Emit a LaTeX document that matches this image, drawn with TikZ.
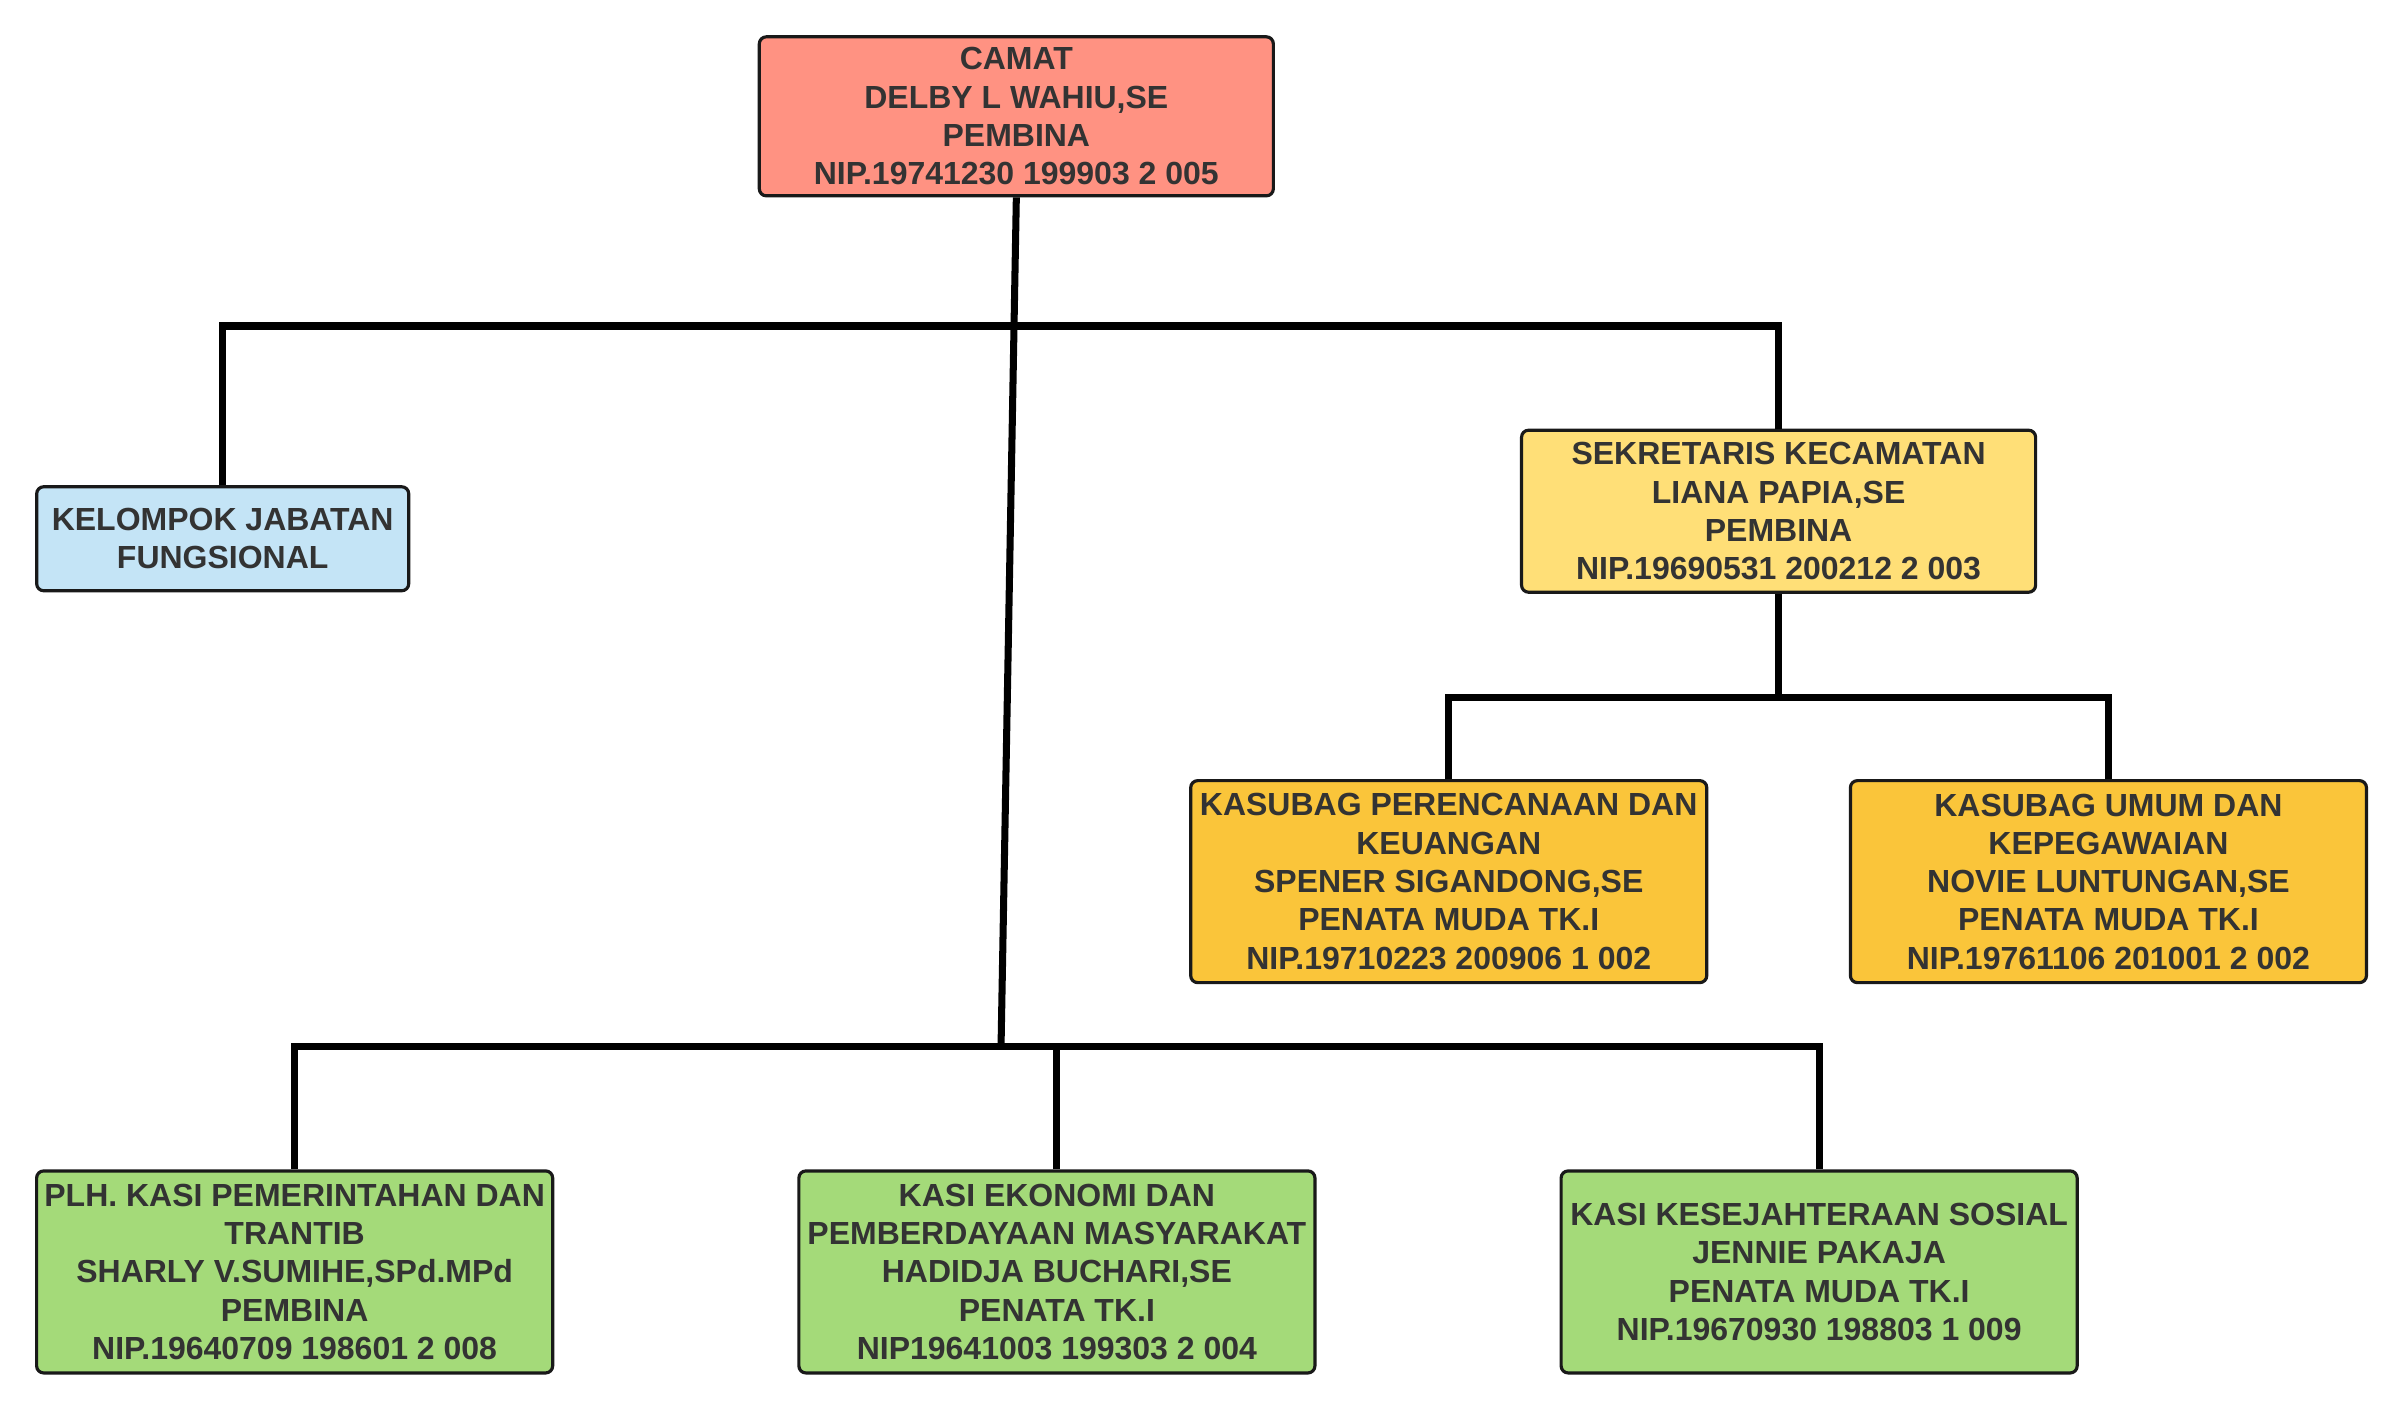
\documentclass[tikz,border=0pt]{standalone}
\usepackage{fontspec}
\setmainfont{Liberation Sans}
\definecolor{camatred}{HTML}{FF9282}
\definecolor{fungblue}{HTML}{C4E4F6}
\definecolor{sekyellow}{HTML}{FFDF77}
\definecolor{subgold}{HTML}{FAC53A}
\definecolor{kasigreen}{HTML}{A4DA79}
\definecolor{inktext}{HTML}{333333}
\begin{document}
\begin{tikzpicture}[x=0.0153061cm,y=-0.0153061cm,
  unit/.style={draw=black!90,line width=0.9pt,rounded corners=2pt,align=center,
    inner sep=0pt,text=inktext,font=\fontsize{9.1}{10.9}\selectfont\bfseries},
  conn/.style={line width=2pt,black}]

  \useasboundingbox (0,0) rectangle (1568,923);

  \node[unit,fill=camatred,minimum width=5.14cm,minimum height=1.59cm] (camat) at (664,76)
    {CAMAT\\DELBY L WAHIU,SE\\PEMBINA\\NIP.19741230 199903 2 005};

  \node[unit,fill=fungblue,minimum width=3.72cm,minimum height=1.04cm] (kjf) at (145.5,352)
    {KELOMPOK JABATAN\\FUNGSIONAL};

  \node[unit,fill=sekyellow,minimum width=5.14cm,minimum height=1.62cm] (sekcam) at (1162,334)
    {SEKRETARIS KECAMATAN\\LIANA PAPIA,SE\\PEMBINA\\NIP.19690531 200212 2 003};

  % kasubag
  \node[unit,fill=subgold,minimum width=5.16cm,minimum height=2.02cm] (kspk) at (946.5,576)
    {KASUBAG PERENCANAAN DAN\\KEUANGAN\\SPENER SIGANDONG,SE\\PENATA MUDA TK.I\\NIP.19710223 200906 1 002};
  \node[unit,fill=subgold,minimum width=5.16cm,minimum height=2.02cm] (ksuk) at (1377.5,576)
    {KASUBAG UMUM DAN\\KEPEGAWAIAN\\NOVIE LUNTUNGAN,SE\\PENATA MUDA TK.I\\NIP.19761106 201001 2 002};

  % kasi
  \node[unit,fill=kasigreen,minimum width=5.16cm,minimum height=2.02cm] (kpem) at (192.5,831)
    {PLH. KASI PEMERINTAHAN DAN\\TRANTIB\\SHARLY V.SUMIHE,SPd.MPd\\PEMBINA\\NIP.19640709 198601 2 008};
  \node[unit,fill=kasigreen,minimum width=5.16cm,minimum height=2.02cm] (keko) at (690.5,831)
    {KASI EKONOMI DAN\\PEMBERDAYAAN MASYARAKAT\\HADIDJA BUCHARI,SE\\PENATA TK.I\\NIP19641003 199303 2 004};
  \node[unit,fill=kasigreen,minimum width=5.16cm,minimum height=2.02cm] (kkes) at (1188.5,831)
    {KASI KESEJAHTERAAN SOSIAL\\JENNIE PAKAJA\\PENATA MUDA TK.I\\NIP.19670930 198803 1 009};

  \coordinate (jtop) at (662,213);
  \coordinate (jsek) at (1162,456);
  \coordinate (jbot) at (654,684);

  \draw[conn] (camat.south) -- (jbot);
  \draw[conn] (kjf.north) |- (jtop) -| (sekcam.north);
  \draw[conn] (sekcam.south) -- (jsek);
  \draw[conn] (kspk.north) |- (jsek) -| (ksuk.north);
  \draw[conn] (kpem.north) |- (jbot) -| (kkes.north);
  \draw[conn] (keko.north) -- (keko.north |- jbot);

\end{tikzpicture}
\end{document}
